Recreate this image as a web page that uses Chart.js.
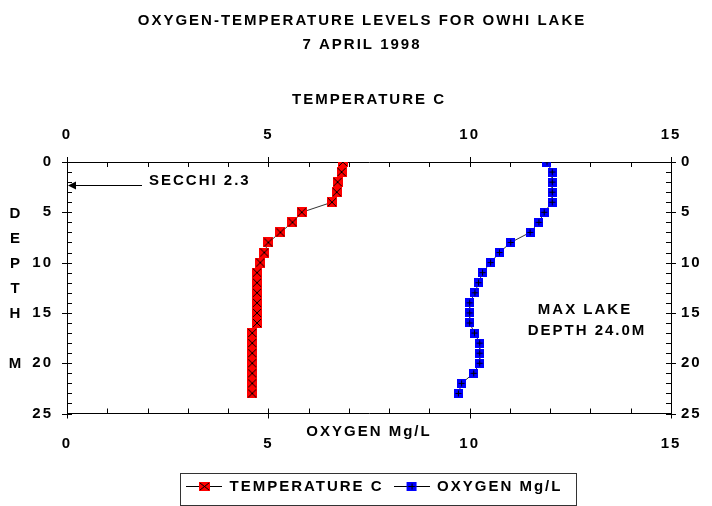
<!DOCTYPE html>
<html>
<head>
<meta charset="utf-8">
<script src="https://cdn.jsdelivr.net/npm/chart.js@4.4.0/dist/chart.umd.min.js"></script>
<style>
html,body{margin:0;padding:0;background:#fff;}
canvas{display:block;}
</style>
</head>
<body>
<canvas id="c" width="712" height="506"></canvas>
<script>
// ---- data ----
const depths = [0,1,2,3,4,5,6,7,8,9,10,11,12,13,14,15,16,17,18,19,20,21,22,23];
const temperatureC = [6.85,6.82,6.72,6.70,6.58,5.83,5.60,5.30,5.00,4.90,4.80,4.72,4.72,4.72,4.72,4.72,4.72,4.60,4.60,4.60,4.60,4.60,4.60,4.60];
const oxygenMgL = [11.92,12.05,12.05,12.05,12.05,11.85,11.72,11.50,11.02,10.74,10.52,10.32,10.22,10.13,10.00,10.00,10.00,10.12,10.25,10.25,10.25,10.10,9.80,9.72];
const xTickValues = [0,5,10,15];
const depthTickValues = [0,5,10,15,20,25];
const seriesNames = ['TEMPERATURE C','OXYGEN Mg/L'];
const chartTitle = ['OXYGEN-TEMPERATURE LEVELS FOR OWHI LAKE','7 APRIL 1998'];
const topAxisTitle = 'TEMPERATURE C';
const bottomAxisTitle = 'OXYGEN Mg/L';
const depthAxisLetters = ['D','E','P','T','H','','M'];
const secchiDepth = 2.3;
const secchiLabel = 'SECCHI 2.3';
const maxDepthLabel = ['MAX LAKE','DEPTH 24.0M'];

// ---- styles ----
const FAMILY = '"Liberation Sans", Arial, sans-serif';
const FONT = {family: FAMILY, size: 15, weight: 'bold', lineHeight: 1.2};
const SPACING = '2px';

function marker(fill, kind, w, h, lineW) {
  const cw = lineW || w;
  const c = document.createElement('canvas');
  c.width = cw; c.height = h;
  const g = c.getContext('2d');
  const ox = Math.round((cw - w) / 2);
  if (lineW) {
    g.fillStyle = '#000';
    g.fillRect(0, Math.floor(h / 2), cw, 1);
  }
  g.fillStyle = fill;
  g.fillRect(ox, 0, w, h);
  g.strokeStyle = '#000';
  g.lineWidth = 1;
  g.beginPath();
  if (kind === 'x') {
    g.moveTo(ox + 1, 1); g.lineTo(ox + w - 1, h - 1);
    g.moveTo(ox + w - 1, 1); g.lineTo(ox + 1, h - 1);
  } else {
    const cx = ox + Math.floor(w / 2) + 0.5, cy = Math.floor(h / 2) + 0.5;
    g.moveTo(ox + 1.5, cy); g.lineTo(ox + w - 1.5, cy);
    g.moveTo(cx, 1.5); g.lineTo(cx, h - 1.5);
  }
  g.stroke();
  return c;
}
const redMarker = marker('#ff0000', 'x', 10, 10);
const blueMarker = marker('#0000ff', '+', 9, 9);
const redLegend = marker('#ff0000', 'x', 11, 9, 36);
const blueLegend = marker('#0000ff', '+', 10, 9, 36);

const decor = {
  id: 'decor',
  beforeUpdate(chart) { chart.ctx.letterSpacing = SPACING; },
  beforeDraw(chart) {
    const c = chart.ctx;
    c.letterSpacing = SPACING;
    c.save(); c.fillStyle = '#fff'; c.fillRect(0, 0, chart.width, chart.height); c.restore();
  },
  afterLayout(chart) {
    const lg = chart.legend;
    if (lg) { lg.left = 176; }
  },
  beforeDatasetsDraw(chart) {
    const {ctx, chartArea: a, scales} = chart;
    const X = scales.x, B = scales.x2, Y = scales.y, R = scales.y2;
    ctx.save();
    ctx.strokeStyle = '#000'; ctx.lineWidth = 1;
    ctx.beginPath();
    for (let v = X.min; v <= X.max; v += 1) {
      const major = v % 5 === 0;
      const p = Math.round(X.getPixelForValue(v)) + 0.5;
      ctx.moveTo(p, a.top - (major ? 5 : 0)); ctx.lineTo(p, a.top + 5);
      const q = Math.round(B.getPixelForValue(v)) + 0.5;
      ctx.moveTo(q, a.bottom + (major ? 5 : 0)); ctx.lineTo(q, a.bottom - 5);
    }
    for (let v = Y.min; v <= Y.max; v += 1) {
      const major = v % 5 === 0;
      const p = Math.round(Y.getPixelForValue(v)) + 0.5;
      ctx.moveTo(a.left - (major ? 5 : 0), p); ctx.lineTo(a.left + 5, p);
      const q = Math.round(R.getPixelForValue(v)) + 0.5;
      ctx.moveTo(a.right + (major ? 5 : 0), q); ctx.lineTo(a.right - 5, q);
    }
    ctx.stroke();
    ctx.restore();
  },
  afterDraw(chart) {
    const {ctx, chartArea: a, scales} = chart;
    ctx.save();
    ctx.letterSpacing = SPACING;
    ctx.fillStyle = '#000';
    ctx.font = 'bold 15px ' + FAMILY;
    ctx.textBaseline = 'middle';
    // vertical depth label
    ctx.textAlign = 'center';
    depthAxisLetters.forEach((ch, i) => { if (ch) ctx.fillText(ch, 16, 214 + i * 25); });
    // secchi arrow
    const sy = Math.round(scales.y.getPixelForValue(secchiDepth)) + 0.5;
    ctx.strokeStyle = '#000'; ctx.lineWidth = 1;
    ctx.beginPath(); ctx.moveTo(142, sy); ctx.lineTo(a.left + 6, sy); ctx.stroke();
    ctx.beginPath(); ctx.moveTo(a.left + 1, sy); ctx.lineTo(a.left + 9, sy - 4); ctx.lineTo(a.left + 9, sy + 4); ctx.closePath(); ctx.fill();
    ctx.textAlign = 'left';
    ctx.fillText(secchiLabel, 149, sy - 5);
    // max depth note
    ctx.textAlign = 'center';
    ctx.fillText(maxDepthLabel[0], 585, 310);
    ctx.fillText(maxDepthLabel[1], 587, 331);
    // legend frame
    const lg = chart.legend;
    if (lg && lg.legendHitBoxes && lg.legendHitBoxes.length) {
      const hb = lg.legendHitBoxes;
      const first = hb[0], last = hb[hb.length - 1];
      const l = Math.round(first.left - 6) + 0.5;
      const r = Math.round(last.left + last.width + 14) + 0.5;
      const t = Math.round(first.top - 6) + 0.5;
      const b = Math.round(first.top + first.height + 11) + 0.5;
      ctx.strokeStyle = '#333';
      ctx.strokeRect(l, t, r - l, b - t);
    }
    ctx.restore();
  }
};

const toPoints = vals => depths.map((d, i) => ({x: vals[i], y: d}));

new Chart(document.getElementById('c'), {
  type: 'scatter',
  data: {
    datasets: [
      {
        label: seriesNames[0],
        data: toPoints(temperatureC),
        xAxisID: 'x', yAxisID: 'y',
        showLine: true,
        borderColor: '#333', borderWidth: 1,
        backgroundColor: '#ff0000',
        pointStyle: redMarker, pointRadius: 5, pointHoverRadius: 5,
        tension: 0
      },
      {
        label: seriesNames[1],
        data: toPoints(oxygenMgL),
        xAxisID: 'x2', yAxisID: 'y',
        showLine: true,
        borderColor: '#333', borderWidth: 1,
        backgroundColor: '#0000ff',
        pointStyle: blueMarker, pointRadius: 5, pointHoverRadius: 5,
        tension: 0
      }
    ]
  },
  options: {
    responsive: false,
    animation: false,
    devicePixelRatio: 1,
    layout: {padding: {left: 12, right: 0, top: 0, bottom: 2}},
    events: [],
    plugins: {
      title: {
        display: true, text: chartTitle, color: '#000',
        font: {family: FAMILY, size: 15, weight: 'bold', lineHeight: 1.6},
        padding: {top: 9, bottom: 0}
      },
      legend: {
        display: true, position: 'bottom', align: 'start',
        labels: {
          usePointStyle: true, pointStyleWidth: 36, boxHeight: 12, padding: 10,
          color: '#000', font: FONT,
          generateLabels(chart) {
            const items = Chart.defaults.plugins.legend.labels.generateLabels(chart);
            items.forEach((it, i) => { it.pointStyle = i === 0 ? redLegend : blueLegend; it.fontColor = '#000'; });
            return items;
          }
        }
      },
      tooltip: {enabled: false}
    },
    scales: {
      x: {
        type: 'linear', position: 'top', min: 0, max: 15,
        afterBuildTicks(s) { s.ticks = xTickValues.map(v => ({value: v})); },
        ticks: {padding: 18, color: '#000', font: FONT, maxRotation: 0, autoSkip: false},
        grid: {display: false, drawTicks: false},
        border: {display: true, color: '#000', width: 1},
        title: {display: true, text: topAxisTitle, color: '#000', font: FONT, padding: {top: 34, bottom: 0}},
        afterFit(s) { s.height = 105; }
      },
      x2: {
        type: 'linear', position: 'bottom', min: 0, max: 15,
        afterBuildTicks(s) { s.ticks = xTickValues.map(v => ({value: v})); },
        ticks: {padding: 21, color: '#000', font: FONT, maxRotation: 0, autoSkip: false},
        grid: {display: false, drawTicks: false},
        border: {display: true, color: '#000', width: 1},
        title: {display: true, text: bottomAxisTitle, color: '#000', font: FONT, padding: {top: 0, bottom: 28}},
        afterFit(s) { s.height = 55.5; }
      },
      y: {
        type: 'linear', position: 'left', min: 0, max: 25, reverse: true,
        afterBuildTicks(s) { s.ticks = depthTickValues.map(v => ({value: v})); },
        ticks: {padding: 14, color: '#000', font: FONT, autoSkip: false},
        grid: {display: false, drawTicks: false},
        border: {display: true, color: '#000', width: 1},
        afterFit(s) { s.width = 55; }
      },
      y2: {
        type: 'linear', position: 'right', min: 0, max: 25, reverse: true,
        afterBuildTicks(s) { s.ticks = depthTickValues.map(v => ({value: v})); },
        ticks: {padding: 10, color: '#000', font: FONT, autoSkip: false},
        grid: {display: false, drawTicks: false},
        border: {display: true, color: '#000', width: 1},
        afterFit(s) { s.width = 41; }
      }
    }
  },
  plugins: [decor]
});
</script>
</body>
</html>
